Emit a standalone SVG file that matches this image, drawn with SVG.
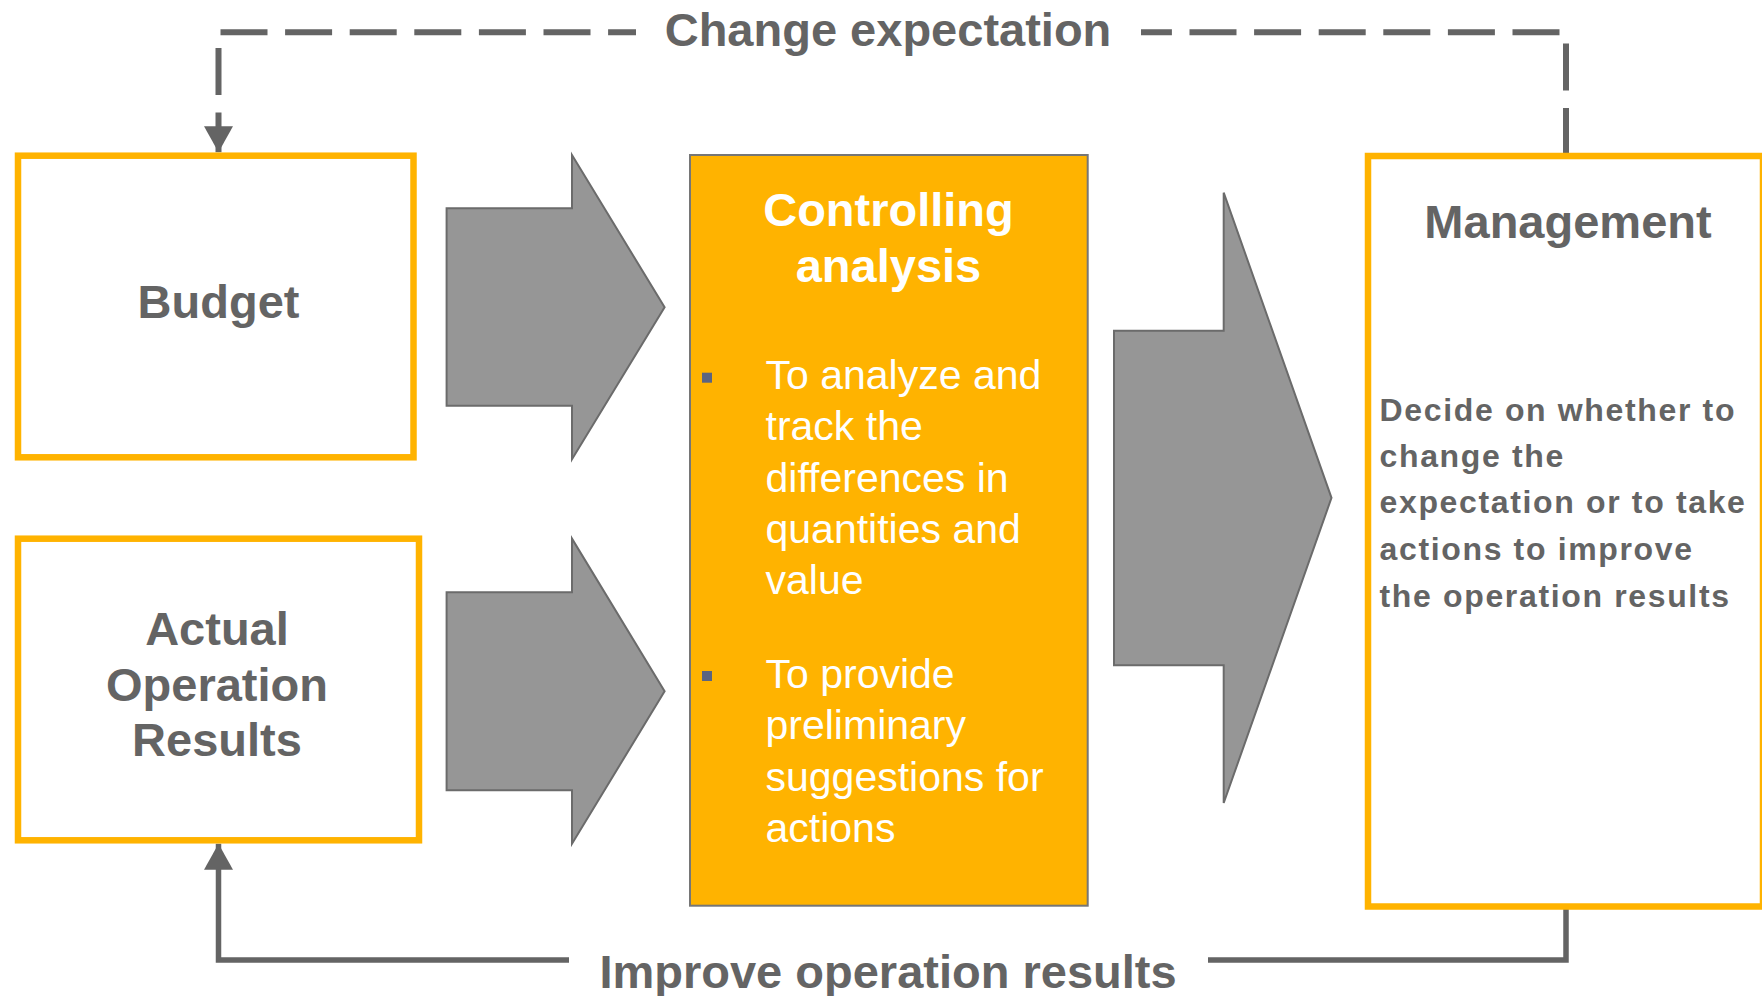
<svg xmlns="http://www.w3.org/2000/svg" width="1762" height="996" viewBox="0 0 1762 996">
  <defs>
    <style>
      .t { font-family: "Liberation Sans", Arial, sans-serif; }
      .title { font-weight: bold; font-size: 47px; fill: #646464; text-anchor: middle; }
      .box { fill: #FFFFFF; stroke: #FFB300; stroke-width: 6.5; }
      .arrow { fill: #969696; stroke: #6B6B6B; stroke-width: 2; stroke-linejoin: miter; }
      .bul { font-size: 41px; fill: #FFFFFF; }
      .sq { fill: #5A6482; }
      .conn { fill: none; stroke: #646464; }
      .mgmt { font-weight: bold; font-size: 32px; fill: #646464; letter-spacing: 1.65px; }
    </style>
    <marker id="ah" markerUnits="userSpaceOnUse" markerWidth="28" markerHeight="30" refX="26" refY="14.5" orient="auto" viewBox="0 0 28 30">
      <path d="M0,0 L26,14.5 L0,29 Z" fill="#646464"/>
    </marker>
  </defs>
  <rect width="1762" height="996" fill="#FFFFFF"/>

  <g id="connectors">
    <path id="change-expectation-line" class="conn" stroke-width="6" stroke-dasharray="47 17.6" d="M1566,155 V32.3 H218.5 V152.3" marker-end="url(#ah)"/>
    <path id="improve-line" class="conn" stroke-width="5.5" d="M1566,909 V960 H218.5 V843.7" marker-end="url(#ah)"/>
    <rect x="636" y="4" width="505" height="56" fill="#FFFFFF"/>
    <rect x="569" y="930" width="639" height="66" fill="#FFFFFF"/>
    <text class="t title" x="888" y="45.7">Change expectation</text>
    <text class="t title" x="888" y="988" font-size="47.6">Improve operation results</text>
  </g>

  <g id="budget">
    <rect class="box" x="18" y="155.7" width="395.5" height="301.6"/>
    <text class="t title" x="218.5" y="317.7">Budget</text>
  </g>

  <g id="actual">
    <rect class="box" x="18" y="538.7" width="401" height="301.6"/>
    <text class="t title" x="217" y="644.7">Actual</text>
    <text class="t title" x="217" y="700.5">Operation</text>
    <text class="t title" x="217" y="756.3">Results</text>
  </g>

  <g id="arrow-budget">
    <polygon class="arrow" points="446.6,208.3 572,208.3 572,155 664.6,307.3 572,459.3 572,405.7 446.6,405.7"/>
  </g>
  <g id="arrow-actual">
    <polygon class="arrow" points="446.6,592.3 572,592.3 572,538.7 664.6,691.3 572,843.7 572,790.3 446.6,790.3"/>
  </g>

  <g id="controlling">
    <rect x="690" y="155" width="397.7" height="750.7" fill="#FFB300" stroke="#767676" stroke-width="2"/>
    <text class="t title" x="888.5" y="226" style="fill:#FFFFFF" font-size="47.5">Controlling</text>
    <text class="t title" x="888.5" y="281.7" style="fill:#FFFFFF" font-size="47.5">analysis</text>
    <rect class="sq" x="702" y="372.7" width="10" height="10"/>
    <text class="t bul" x="765.5" y="389.3">To analyze and</text>
    <text class="t bul" x="765.5" y="440.3">track the</text>
    <text class="t bul" x="765.5" y="491.5">differences in</text>
    <text class="t bul" x="765.5" y="542.8">quantities and</text>
    <text class="t bul" x="765.5" y="593.5">value</text>
    <rect class="sq" x="702" y="671" width="10" height="10"/>
    <text class="t bul" x="765.5" y="687.7">To provide</text>
    <text class="t bul" x="765.5" y="739">preliminary</text>
    <text class="t bul" x="765.5" y="790.5">suggestions for</text>
    <text class="t bul" x="765.5" y="842">actions</text>
  </g>

  <g id="arrow-controlling">
    <polygon class="arrow" points="1114,330.7 1223.7,330.7 1223.7,192.7 1331.5,497.8 1223.7,803 1223.7,665.3 1114,665.3"/>
  </g>

  <g id="management">
    <rect class="box" x="1368" y="156" width="395" height="750.5"/>
    <text class="t title" x="1568" y="238.3">Management</text>
    <text class="t mgmt" x="1379.5" y="421">Decide on whether to</text>
    <text class="t mgmt" x="1379.5" y="467">change the</text>
    <text class="t mgmt" x="1379.5" y="513.3">expectation or to take</text>
    <text class="t mgmt" x="1379.5" y="560">actions to improve</text>
    <text class="t mgmt" x="1379.5" y="606.5">the operation results</text>
  </g>
</svg>
